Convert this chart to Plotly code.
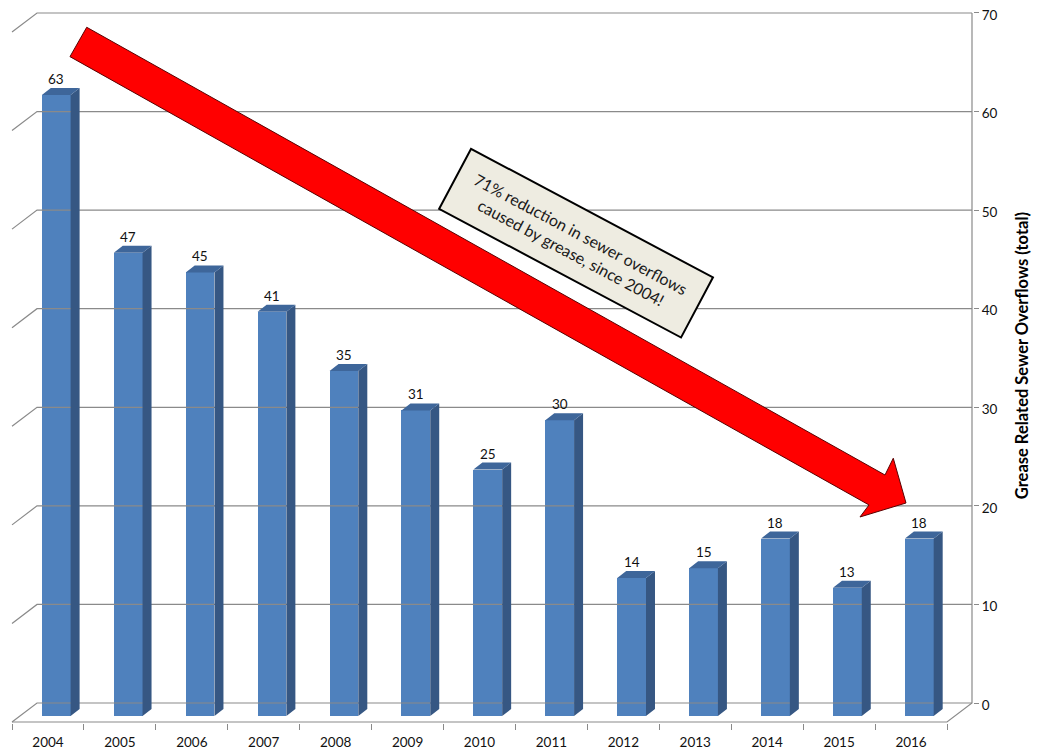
import plotly.graph_objects as go

# ---------------- data ----------------
years = ["2004", "2005", "2006", "2007", "2008", "2009", "2010",
         "2011", "2012", "2013", "2014", "2015", "2016"]
overflows = [63, 47, 45, 41, 35, 31, 25, 30, 14, 15, 18, 13, 18]
y_ticks = [0, 10, 20, 30, 40, 50, 60, 70]
axis_title = "Grease Related Sewer Overflows (total)"
callout = "71% reduction in sewer overflows<br>caused by grease, since 2004!"

# ---------------- pseudo-3D geometry (in axis units) ----------------
WALL_DX = 0.3476      # depth shift of back wall (x units)
WALL_DY = 1.928       # depth shift of back wall (y units)
BAR_W = 0.40
BAR_SHIFT = 0.115
BAR_BASE = -1.32
BAR_DX = 0.125
BAR_DY = 0.71

FRONT = "#4f81bd"
SIDE = "#365783"
TOP = "#3e669a"
GRID = "#8a8a8a"
FONT = "Lato"

xs = list(range(len(years)))
x_right = len(years) - 0.5 + WALL_DX

fig = go.Figure()

# back wall gridlines with the left depth stubs
gx, gy = [], []
for v in y_ticks:
    gx += [-0.5, -0.5 + WALL_DX, x_right, None]
    gy += [v - WALL_DY, v, v, None]
# floor front edge + right edge + right axis line
gx += [-0.5, len(years) - 0.5, x_right, x_right, None]
gy += [-WALL_DY, -WALL_DY, 0, y_ticks[-1], None]
fig.add_trace(go.Scatter(x=gx, y=gy, mode="lines",
                         line=dict(color=GRID, width=1.2),
                         hoverinfo="skip", showlegend=False))

# bar front faces
fig.add_trace(go.Bar(x=xs, y=overflows, base=BAR_BASE, width=BAR_W,
                     offset=BAR_SHIFT - BAR_W / 2,
                     marker=dict(color=FRONT, line=dict(width=0)),
                     showlegend=False, hoverinfo="skip"))

# bar side and top faces
sx, sy, tx, ty = [], [], [], []
for i, v in zip(xs, overflows):
    xl = i + BAR_SHIFT - BAR_W / 2
    xr = i + BAR_SHIFT + BAR_W / 2
    top = BAR_BASE + v
    sx += [xr, xr, xr + BAR_DX, xr + BAR_DX, xr, None]
    sy += [BAR_BASE, top, top + BAR_DY, BAR_BASE + BAR_DY, BAR_BASE, None]
    tx += [xl, xr, xr + BAR_DX, xl + BAR_DX, xl, None]
    ty += [top, top, top + BAR_DY, top + BAR_DY, top, None]
fig.add_trace(go.Scatter(x=sx, y=sy, mode="lines", fill="toself",
                         fillcolor=SIDE, line=dict(width=0, color=SIDE),
                         hoverinfo="skip", showlegend=False))
fig.add_trace(go.Scatter(x=tx, y=ty, mode="lines", fill="toself",
                         fillcolor=TOP, line=dict(width=0, color=TOP),
                         hoverinfo="skip", showlegend=False))

# value labels
for i, v in zip(xs, overflows):
    fig.add_annotation(x=i + BAR_SHIFT, y=BAR_BASE + v, text=str(v),
                       showarrow=False, yanchor="middle", yshift=16,
                       font=dict(family=FONT, size=13.5, color="#111111"))

# red trend arrow (decoration)
arrow = [(0.306, 65.57), (0.539, 68.55), (11.638, 23.13), (11.753, 24.83),
         (11.930, 20.29), (11.290, 18.87), (11.416, 20.09)]
path = "M " + " L ".join(f"{x},{y}" for x, y in arrow) + " Z"
fig.add_shape(type="path", path=path, xref="x", yref="y",
              fillcolor="#ff0000", line=dict(color="#5a0000", width=1),
              layer="above")

# callout box
fig.add_annotation(x=7.338, y=46.65, text=callout, showarrow=False,
                   textangle=28, xanchor="center", yanchor="middle",
                   width=268, height=62, borderpad=2,
                   bgcolor="#eeece1", bordercolor="#000000", borderwidth=2,
                   font=dict(family=FONT, size=16, color="#1a1a1a"))

# right axis title
fig.add_annotation(xref="paper", yref="paper", x=1.051, y=0.516,
                   text="<b>" + axis_title + "</b>", showarrow=False,
                   textangle=-90, xanchor="center", yanchor="middle",
                   font=dict(family=FONT, size=16.5, color="#000000"))

# page body has an 8px margin, so the figure starts 8px in from the corner
fig.update_layout(
    width=1032, height=746,
    margin=dict(l=3, r=67, t=4, b=31),
    paper_bgcolor="white", plot_bgcolor="white",
    bargap=0, showlegend=False,
    xaxis=dict(range=[-0.514, 12.8615], tickmode="array", tickvals=xs,
               ticktext=years, ticks="", showgrid=False, zeroline=False,
               showline=False, automargin=False, ticklabelstandoff=9,
               ticklabeloverflow="allow",
               tickfont=dict(family=FONT, size=13.5, color="#111111"),
               minor=dict(tickmode="array",
                          tickvals=[i - 0.5 for i in range(len(years) + 1)],
                          ticks="outside", ticklen=6, tickcolor=GRID,
                          tickwidth=1, showgrid=False)),
    yaxis=dict(range=[-2.029, 70.1], side="right", tickmode="array",
               tickvals=y_ticks, ticks="outside", ticklen=5,
               tickcolor=GRID, showgrid=False, zeroline=False,
               showline=False, automargin=False, ticklabeloverflow="allow",
               ticklabelshift=2,
               tickfont=dict(family=FONT, size=13.5, color="#111111")),
)

fig.write_html("out.html")
